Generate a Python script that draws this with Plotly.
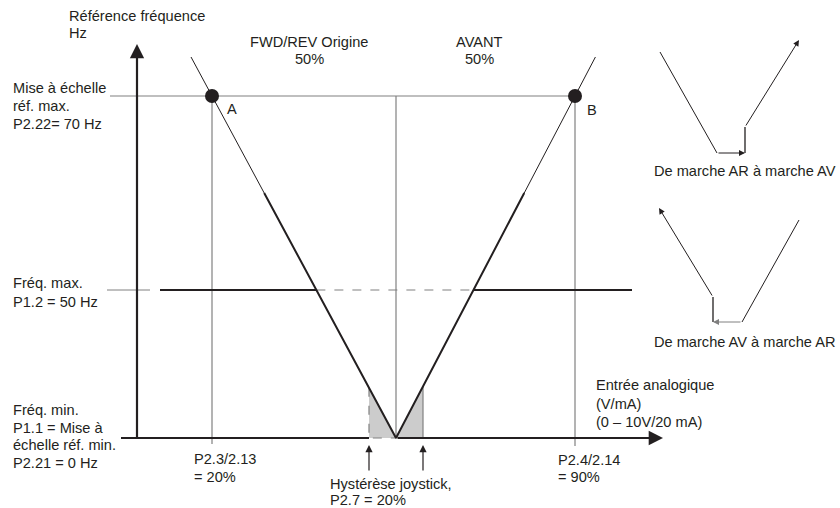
import plotly.graph_objects as go

# diagram units: x = distance right of the frequency axis, y = height above the input axis
x_axis_start, x_axis_end = -16, 526
y_axis_bottom, y_axis_top = -2, 394

ref_max_level = 342          # P2.22 = 70 Hz
freq_max_level = 148         # P1.2 = 50 Hz
point_labels = ["A", "B"]
point_x = [75, 438]          # P2.3/2.13 = 20 %, P2.4/2.14 = 90 %
origin_x = 259               # FWD/REV origine 50 %
hyst_x = [232, 286]          # hystérèse joystick
line_top = 381               # top end of the thin reference lines
freq_max_x = [23, 495]       # extent of the max frequency line
ref_max_start = -27

# small insets on the right
inset_ar_av_x = [523, 580, 608, 608, 662]
inset_ar_av_y = [386, 285, 285, 311, 398]
inset_av_ar_x = [662, 605, 576, 576, 522]
inset_av_ar_y = [218, 116, 116, 141, 230]

DARK = "#231f20"
GREY = "#808080"
SHADE = "#cccccc"
FONT = "Liberation Sans"

slope_l = ref_max_level / (origin_x - point_x[0])
slope_r = ref_max_level / (point_x[1] - origin_x)


def left_x(y):
    return origin_x - y / slope_l


def right_x(y):
    return origin_x + y / slope_r


fig = go.Figure()


def seg(xs, ys, color=DARK, width=1, dash="solid", fill=None):
    fig.add_trace(go.Scatter(
        x=xs, y=ys, mode="lines", hoverinfo="skip", showlegend=False,
        line=dict(color=color, width=width, dash=dash),
        fill=fill, fillcolor=SHADE if fill else None))


# hysteresis shaded areas
h_left = (origin_x - hyst_x[0]) * slope_l
h_right = (hyst_x[1] - origin_x) * slope_r
seg([hyst_x[0], hyst_x[0], origin_x, hyst_x[0]], [0, h_left, 0, 0], width=0, fill="toself")
seg([origin_x, hyst_x[1], hyst_x[1], origin_x], [0, 0, h_right, 0], width=0, fill="toself")

# thin grey guides
seg([ref_max_start, point_x[1]], [ref_max_level, ref_max_level], GREY, 1.2)
seg([point_x[0], point_x[0]], [ref_max_level, -6], GREY, 1.2)
seg([point_x[1], point_x[1]], [ref_max_level, -8], GREY, 1.2)
seg([origin_x, origin_x], [ref_max_level, 0], GREY, 1.2)
seg([hyst_x[1], hyst_x[1]], [0, h_right], GREY, 1.2)
seg([hyst_x[0], hyst_x[0], origin_x], [h_left, 0, 0], GREY, 1.2, "dash")

# max frequency line
seg([-30, 13], [freq_max_level] * 2, GREY, 1)
seg([freq_max_x[0], left_x(freq_max_level)], [freq_max_level] * 2, DARK, 2)
seg([left_x(freq_max_level), right_x(freq_max_level)], [freq_max_level] * 2, GREY, 1.2, "dash")
seg([right_x(freq_max_level), freq_max_x[1]], [freq_max_level] * 2, DARK, 2)

# V characteristic: thin above, thick below
mid = (ref_max_level + freq_max_level) / 2
seg([left_x(line_top), left_x(mid)], [line_top, mid], DARK, 1)
seg([left_x(mid), origin_x, right_x(mid)], [mid, 0, mid], DARK, 2)
seg([right_x(mid), right_x(line_top)], [mid, line_top], DARK, 1)

# input axis up to the hysteresis band
seg([x_axis_start, hyst_x[0]], [0, 0], DARK, 2.2)

# points A and B
fig.add_trace(go.Scatter(
    x=point_x, y=[ref_max_level] * 2, mode="markers", hoverinfo="skip", showlegend=False,
    marker=dict(color=DARK, size=14)))

# insets
seg(inset_ar_av_x[:2], inset_ar_av_y[:2], DARK, 1)
seg(inset_ar_av_x[2:4], inset_ar_av_y[2:4], DARK, 1.3)
seg(inset_av_ar_x[:2], inset_av_ar_y[:2], DARK, 1)
seg(inset_av_ar_x[2:4], inset_av_ar_y[2:4], DARK, 1.3)


def arrow(x, y, ax, ay, head=2, size=1.0, width=1.0, color=DARK):
    fig.add_annotation(x=x, y=y, ax=ax, ay=ay, xref="x", yref="y", axref="x", ayref="y",
                       text="", showarrow=True, arrowhead=head, arrowsize=size,
                       arrowwidth=width, arrowcolor=color, standoff=0, startstandoff=0)


# axes with arrow heads
arrow(0, y_axis_top, 0, y_axis_bottom, head=2, size=1.3, width=2.2)
arrow(x_axis_end, 0, origin_x, 0, head=2, size=1.3, width=2.2)

# hysteresis markers below the axis
for hx in hyst_x:
    arrow(hx, -7, hx, -34, head=2, size=1.2, width=1.2)

# direction chevrons on the characteristic
def chevron(x, y, dx, dy, color=DARK):
    n = (dx ** 2 + dy ** 2) ** 0.5
    arrow(x, y, x - 4 * dx / n, y - 4 * dy / n, head=4, size=1.7, width=1, color=color)


chevron(245, (origin_x - 245) * slope_l, 1, -slope_l)
chevron(296, (296 - origin_x) * slope_r, 1, slope_r)
chevron(270, 0, 1, 0)
chevron(hyst_x[1], 20, 0, 1, GREY)

# inset arrow heads
arrow(inset_ar_av_x[2], inset_ar_av_y[2], inset_ar_av_x[1], inset_ar_av_y[1], size=1.2)
arrow(inset_ar_av_x[4], inset_ar_av_y[4], inset_ar_av_x[3], inset_ar_av_y[3], size=1.2)
arrow(inset_av_ar_x[2], inset_av_ar_y[2], inset_av_ar_x[1], inset_av_ar_y[1], size=1.2, color=GREY)
arrow(inset_av_ar_x[4], inset_av_ar_y[4], inset_av_ar_x[3], inset_av_ar_y[3], size=1.2)


def label(x, y, lines, align="left", step=18):
    # one annotation per line so the line spacing stays tight
    for i, line in enumerate(lines):
        fig.add_annotation(x=x, y=y - i * step, xref="x", yref="y", text=line,
                           showarrow=False, xanchor=align, yanchor="middle", borderpad=0,
                           font=dict(family=FONT, size=14.6, color=DARK))


label(-69, 422, ["Référence fréquence", "Hz"], step=17)
label(-125, 350, ["Mise à échelle", "réf. max.", "P2.22= 70 Hz"])
label(-125, 155, ["Fréq. max.", "P1.2 = 50 Hz"], step=19)
label(-125, 28, ["Fréq. min.", "P1.1 = Mise à", "échelle réf. min.", "P2.21 = 0 Hz"], step=17.5)
label(172, 396, ["FWD/REV Origine", "50%"], "center", step=17)
label(342, 396, ["AVANT", "50%"], "center", step=17)
label(point_x[0] + 14, 329, point_labels[:1])
label(point_x[1] + 11, 328, point_labels[1:])
label(56, -21, ["P2.3/2.13", "= 20%"])
label(420, -22, ["P2.4/2.14", "= 90%"], step=17)
label(192, -46, ["Hystérèse joystick,", "P2.7 = 20%"], step=16)
label(458, 53, ["Entrée analogique", "(V/mA)", "(0 – 10V/20 mA)"], step=18.5)
label(516, 267, ["De marche AR à marche AV"])
label(516, 96, ["De marche AV à marche AR"])

fig.update_layout(
    width=840, height=508,
    margin=dict(l=0, r=0, t=0, b=0),
    paper_bgcolor="white", plot_bgcolor="white",
    xaxis=dict(range=[-137, 703], visible=False, fixedrange=True),
    yaxis=dict(range=[-70, 438], visible=False, fixedrange=True),
)

# drop the browser's default page margin so the figure fills the window
fig.write_html("out.html", config={"displayModeBar": False},
               post_script="document.body.style.margin = '0';")
